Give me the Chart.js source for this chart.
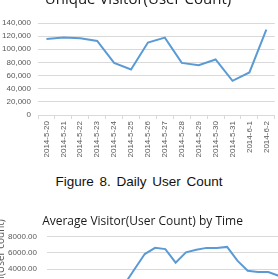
<!DOCTYPE html>
<html>
<head>
<meta charset="utf-8">
<script src="https://cdn.jsdelivr.net/npm/chart.js@4.4.1/dist/chart.umd.min.js"></script>
<style>
  html, body { margin: 0; padding: 0; background: #fff; }
  body { width: 278px; height: 279px; overflow: hidden; position: relative; }
  #top-wrap { position: absolute; left: 0; top: -11px; width: 278px; height: 170px; }
  #bottom-wrap { position: absolute; left: -9px; top: 210px; width: 303px; height: 112px; }
  #caption {
    position: absolute; left: 0; top: 175px; width: 278px;
    text-align: center; font: 13.5px 'Liberation Sans', Arial, sans-serif;
    line-height: 1; color: #111; word-spacing: 2px;
  }
</style>
</head>
<body>
<div id="top-wrap"><canvas id="dailyChart"></canvas></div>
<div id="caption">Figure 8. Daily User Count</div>
<div id="bottom-wrap"><canvas id="hourChart"></canvas></div>
<script>
// dati giornalieri (Figure 8)
const days = ['2014-5-20', '2014-5-21', '2014-5-22', '2014-5-23', '2014-5-24', '2014-5-25', '2014-5-26',
  '2014-5-27', '2014-5-28', '2014-5-29', '2014-5-30', '2014-5-31', '2014-6-1', '2014-6-2']
const dailyUsers = [115700, 117800, 116800, 112700, 79300, 69300, 110300,
  117800, 79300, 75800, 84500, 52000, 64700, 130000]

// media per ora
const hours = ['0', '1', '2', '3', '4', '5', '6', '7', '8', '9', '10', '11',
  '12', '13', '14', '15', '16', '17', '18', '19', '20', '21', '22', '23']
const hourlyUsers = [1500, 900, 600, 450, 400, 550, 1000, 2100, 4000, 5850, 6600, 6450,
  4800, 6050, 6380, 6600, 6600, 6720, 5050, 3820, 3660, 3660, 3200, 2400]

const lineColor = '#5b9bd5'
const gridColor = '#d9d9d9'
const tickColor = '#595959'

// grafico in alto
new Chart(document.getElementById('dailyChart').getContext('2d'), {
  type: 'line',
  data: {
    labels: days,
    datasets: [{
      data: dailyUsers,
      borderColor: lineColor,
      borderWidth: 2,
      pointRadius: 0,
      tension: 0,
      fill: false,
    }],
  },
  options: {
    responsive: true,
    maintainAspectRatio: false,
    animation: false,
    layout: { padding: { left: 0, right: 2, top: 0, bottom: 0 } },
    plugins: {
      legend: { display: false },
      tooltip: { enabled: false },
      title: {
        display: true,
        text: 'Unique Visitor(User Count)',
        color: '#1a1a1a',
        font: { family: 'Open Sans', size: 15, weight: 'normal' },
        padding: { top: 2, bottom: 14 },
      },
    },
    scales: {
      x: {
        offset: true,
        grid: { offset: true, drawOnChartArea: false, drawTicks: true, tickLength: 4, color: gridColor },
        border: { display: true, color: gridColor },
        ticks: {
          autoSkip: false, maxRotation: 90, minRotation: 90, padding: 2,
          color: tickColor, font: { family: 'Liberation Sans', size: 8 },
        },
        afterFit: (scale) => { scale.height = 44 },
      },
      y: {
        min: 0,
        max: 140000,
        grid: { color: gridColor, drawTicks: false },
        border: { display: false },
        ticks: {
          stepSize: 20000, padding: 7,
          color: tickColor, font: { family: 'Liberation Sans', size: 8 },
        },
        afterFit: (scale) => { scale.width = 38 },
      },
    },
  },
})

// grafico in basso (tagliato dal bordo)
new Chart(document.getElementById('hourChart').getContext('2d'), {
  type: 'line',
  data: {
    labels: hours,
    datasets: [{
      data: hourlyUsers,
      borderColor: lineColor,
      borderWidth: 2,
      pointRadius: 0,
      tension: 0,
      fill: false,
    }],
  },
  options: {
    responsive: true,
    maintainAspectRatio: false,
    animation: false,
    layout: { padding: 0 },
    plugins: {
      legend: { display: false },
      tooltip: { enabled: false },
      title: {
        display: true,
        text: 'Average Visitor(User Count) by Time',
        color: '#1a1a1a',
        font: { family: 'Open Sans', size: 12, weight: 'normal' },
        padding: { top: 4, bottom: 8 },
      },
    },
    scales: {
      x: {
        offset: true,
        grid: { offset: true, drawOnChartArea: false, tickLength: 4, color: gridColor },
        border: { color: gridColor },
        ticks: { color: tickColor, font: { family: 'Liberation Sans', size: 8 } },
        afterFit: (scale) => { scale.height = 20 },
      },
      y: {
        min: 0,
        max: 8000,
        grid: { color: gridColor, drawTicks: false },
        border: { display: false },
        title: {
          display: true,
          text: 'Visitation(User count)',
          color: tickColor,
          font: { family: 'Open Sans', size: 10 },
          padding: { top: 4, bottom: 4 },
        },
        ticks: {
          stepSize: 2000, padding: 10,
          color: tickColor, font: { family: 'Liberation Sans', size: 8 },
          callback: (v) => v.toFixed(2),
        },
        afterFit: (scale) => { scale.width = 56 },
      },
    },
  },
})
</script>
</body>
</html>
